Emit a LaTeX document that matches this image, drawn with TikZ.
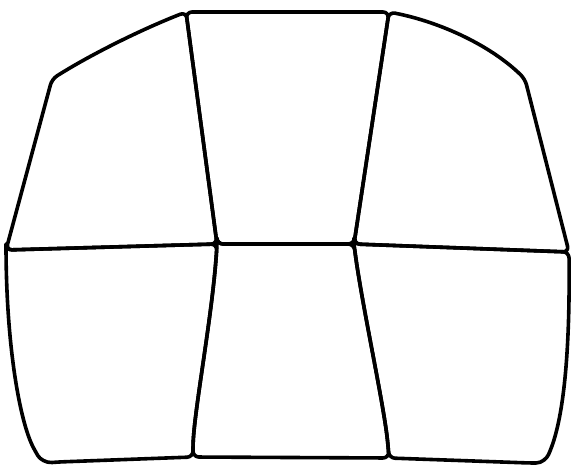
\documentclass[tikz,border=0pt]{standalone}
\begin{document}
\begin{tikzpicture}[x=1pt,y=-1pt,
  panel/.style={draw=black, line width=3.6pt, rounded corners=6pt, line join=round}]
\useasboundingbox[fill=white] (0,0) rectangle (571,466);
% junctions
\coordinate (JL) at (6,250);
\coordinate (JM1) at (217,244);
\coordinate (JM2) at (354,244);
\coordinate (JR) at (569,252);
\coordinate (T1) at (186,12);
\coordinate (T2) at (389,12);
\coordinate (B1) at (193,457);
\coordinate (B2) at (389,458);
\coordinate (B1u) at (193,444);
\coordinate (B2u) at (388,445);
% outer corners
\coordinate (TLc) at (52,79);
\coordinate (TRc) at (525,79);
% top-left
\draw[panel] (JL) -- (TLc) .. controls (90,55) and (140,30) .. (T1) -- (JM1) -- cycle;
% top-middle
\draw[panel] (T1) -- (T2) -- (JM2) -- (JM1) -- cycle;
% top-right
\draw[panel] (T2) .. controls (440,22) and (490,45) .. (TRc) -- (JR) -- (JM2) -- cycle;
% bottom-left
\draw[panel] (JL) -- (JM1) .. controls (213,310) and (196,400) .. (B1u) -- (B1) -- (58,462)
  .. controls (46,463) and (40,459) .. (35,451) .. controls (20,420) and (7,350) .. cycle;
% bottom-middle
\draw[panel] (JM1) -- (JM2) .. controls (361,300) and (383,400) .. (B2u) -- (B2) -- (B1) -- (B1u)
  .. controls (196,400) and (213,310) .. cycle;
% bottom-right
\draw[panel] (JM2) -- (JR) .. controls (570,350) and (564,410) .. (551,449)
  .. controls (547,458) and (542,463) .. (530,463) -- (B2) -- (B2u) .. controls (383,400) and (361,300) .. cycle;
\end{tikzpicture}
\end{document}
